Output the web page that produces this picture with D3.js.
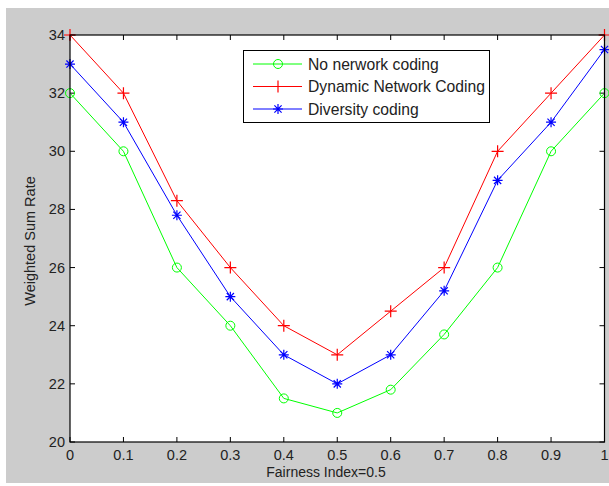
<!DOCTYPE html>
<html><head><meta charset="utf-8">
<script src="https://cdn.jsdelivr.net/npm/d3@7"></script>
<style>body{margin:0;background:#fff}svg{display:block}text{font-family:Arial,"Liberation Sans",sans-serif}</style>
</head><body>
<svg id="c" width="609" height="486"></svg>
<script>
const xValues = [0,0.1,0.2,0.3,0.4,0.5,0.6,0.7,0.8,0.9,1];
const noCoding = [32,30,26,24,21.5,21,21.8,23.7,26,30,32];
const dynamicCoding = [34,32,28.3,26,24,23,24.5,26,30,32,34];
const diversityCoding = [33,31,27.8,25,23,22,23,25.2,29,31,33.5];
const seriesNames = ["No nerwork coding","Dynamic Network Coding","Diversity coding"];
const xTicks = [0,0.1,0.2,0.3,0.4,0.5,0.6,0.7,0.8,0.9,1];
const yTicks = [20,22,24,26,28,30,32,34];

const svg = d3.select("#c");
svg.append("rect").attr("x",6).attr("y",8).attr("width",603).attr("height",475).attr("fill","#cccccc");
const L=70,T=35,R=604.5,B=442;
const x = d3.scaleLinear().domain([0,1]).range([L,R]);
const y = d3.scaleLinear().domain([20,34]).range([B,T]);
svg.append("rect").attr("x",L).attr("y",T).attr("width",R-L).attr("height",B-T).attr("fill","#fff");

const tl=5;
const g = svg.append("g");
xTicks.forEach(v=>{
  g.append("line").attr("x1",x(v)).attr("x2",x(v)).attr("y1",B).attr("y2",B-tl).attr("stroke","#000");
  g.append("line").attr("x1",x(v)).attr("x2",x(v)).attr("y1",T).attr("y2",T+tl).attr("stroke","#000");
  g.append("text").attr("x",x(v)).attr("y",B+18).attr("text-anchor","middle").attr("font-size",14.5).attr("fill","#222").text(d3.format("")(v));
});
yTicks.forEach(v=>{
  g.append("line").attr("x1",L).attr("x2",L+tl).attr("y1",y(v)).attr("y2",y(v)).attr("stroke","#000");
  g.append("line").attr("x1",R).attr("x2",R-tl).attr("y1",y(v)).attr("y2",y(v)).attr("stroke","#000");
  g.append("text").attr("x",L-5).attr("y",y(v)+5).attr("text-anchor","end").attr("font-size",14.5).attr("fill","#222").text(v);
});

const series = [
  {name:seriesNames[0],vals:noCoding,color:"#00ff00",m:"o"},
  {name:seriesNames[1],vals:dynamicCoding,color:"#ff0000",m:"+"},
  {name:seriesNames[2],vals:diversityCoding,color:"#0000ff",m:"*"}
];
const line = d3.line().x(d=>x(d[0])).y(d=>y(d[1]));
function marker(sel,cx,cy,m,color){
  if(m==="o"){
    sel.append("circle").attr("cx",cx).attr("cy",cy).attr("r",4.5).attr("fill","none").attr("stroke",color).attr("stroke-width",1);
  } else if(m==="+"){
    const s=6;
    sel.append("path").attr("d",`M${cx-s},${cy}H${cx+s}M${cx},${cy-s}V${cy+s}`).attr("stroke",color).attr("stroke-width",1.2);
  } else {
    const s=5, d=3.6;
    sel.append("path").attr("d",`M${cx-s},${cy}H${cx+s}M${cx},${cy-s}V${cy+s}M${cx-d},${cy-d}L${cx+d},${cy+d}M${cx-d},${cy+d}L${cx+d},${cy-d}`).attr("stroke",color).attr("stroke-width",1.2);
  }
}
const plot = svg.append("g");
series.forEach(s=>{
  const pts = xValues.map((v,i)=>[v,s.vals[i]]);
  plot.append("path").attr("d",line(pts)).attr("fill","none").attr("stroke",s.color).attr("stroke-width",1);
  pts.forEach(p=>marker(plot,x(p[0]),y(p[1]),s.m,s.color));
});

svg.append("rect").attr("x",L).attr("y",T).attr("width",R-L).attr("height",B-T).attr("fill","none").attr("stroke","#000").attr("stroke-width",1.2);

const lg = svg.append("g");
lg.append("rect").attr("x",243.5).attr("y",50.5).attr("width",246).attr("height",72).attr("fill","#fff").attr("stroke","#000");
series.forEach((s,i)=>{
  const yy = 64+i*22.5;
  lg.append("line").attr("x1",253).attr("x2",302).attr("y1",yy).attr("y2",yy).attr("stroke",s.color);
  marker(lg,278,yy,s.m,s.color);
  lg.append("text").attr("x",308).attr("y",yy+5.5).attr("font-size",15.7).attr("fill","#222").text(s.name);
});

svg.append("text").attr("x",326).attr("y",477).attr("text-anchor","middle").attr("font-size",14).attr("fill","#222").text("Fairness Index=0.5");
svg.append("text").attr("transform",`translate(35,241) rotate(-90)`).attr("text-anchor","middle").attr("font-size",14.5).attr("fill","#222").text("Weighted Sum Rate");
</script>
</body></html>
